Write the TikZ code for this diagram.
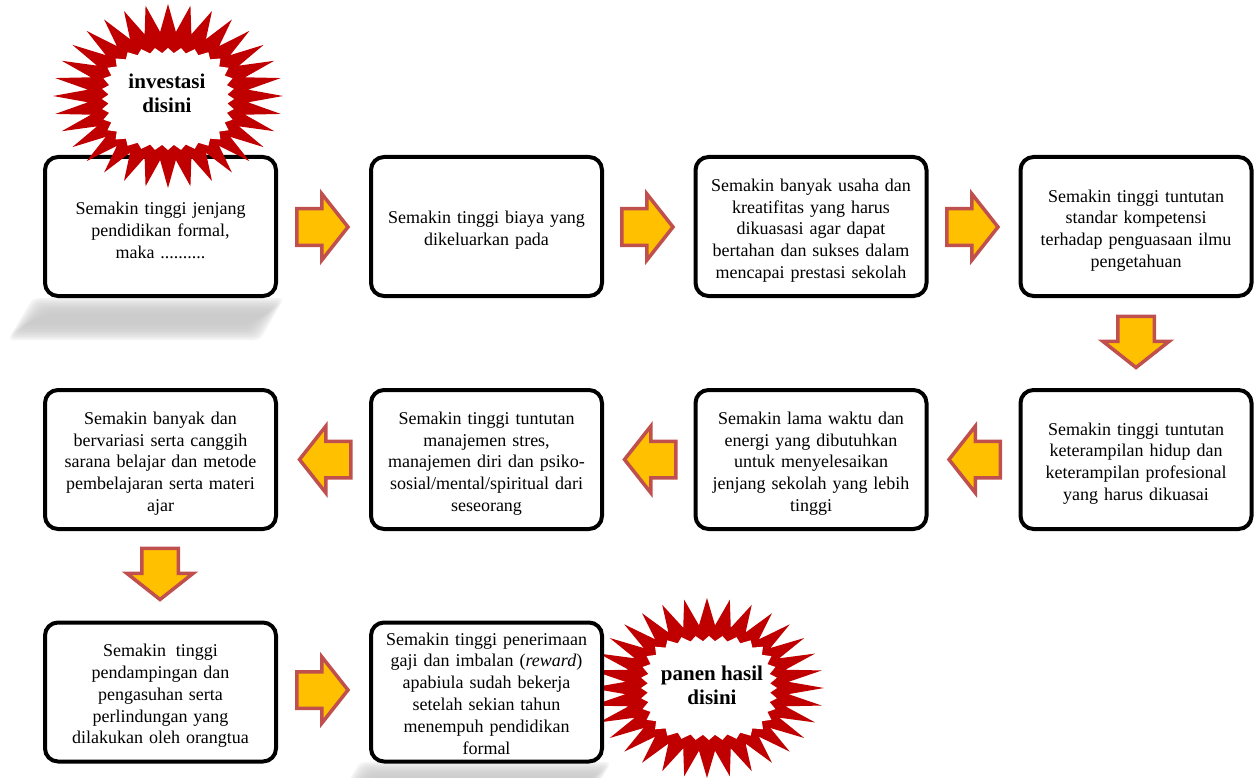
\documentclass[tikz,border=0pt]{standalone}
\usepackage{fontspec}
\setmainfont{Liberation Serif}
\definecolor{starred}{HTML}{C00000}
\definecolor{arrowedge}{HTML}{C0504D}
\definecolor{arrowfill}{HTML}{FFC000}
\pgfmathdeclarefunction{sqf}{1}{\pgfmathparse{1/((abs(cos(#1))^3+abs(sin(#1))^3)^(1/3))}}
\newcommand\myburst[6]{%
  \fill[#6] ({#1+#3},{#2}) \foreach \k in {0,...,31}{ -- ({#1+#3*cos(\k*11.25)},{#2+#4*sin(\k*11.25)}) -- ({#1+#5*#3*cos(\k*11.25+5.625)},{#2+#5*#4*sin(\k*11.25+5.625)}) } -- cycle;}
\newcommand\mywhite[5]{%
  \fill[white] ({#1+#3},{#2}) \foreach \k in {0,...,31}{ -- ({#1+#3*cos(\k*11.25)*sqf(\k*11.25)},{#2+#4*sin(\k*11.25)*sqf(\k*11.25)}) -- ({#1+#5*#3*cos(\k*11.25+5.625)*sqf(\k*11.25+5.625)},{#2+#5*#4*sin(\k*11.25+5.625)*sqf(\k*11.25+5.625)}) } -- cycle;}
\newcommand\myarrow[3]{%
  \draw[blockarrow, shift={(#1,#2)}, rotate=#3] (-25.75,-18.25) -- (-0.75,-18.25) -- (-0.75,-33.25) -- (25.5,0) -- (-0.75,33.25) -- (-0.75,18.25) -- (-25.75,18.25) -- cycle;}
\newcommand\myshadow[2]{%
  \foreach \i in {0,...,9}{
    \fill[black!22, opacity=0.18, rounded corners=5pt] ({#1+33+\i*1.8},{#2+298+\i*1.7}) -- ({#1+284-\i*1.8},{#2+298+\i*1.7}) -- ({#1+260-\i*1.8},{#2+340-\i*1.7}) -- ({#1+8+\i*1.8},{#2+340-\i*1.7}) -- cycle;}}
\newcommand\boxtail{\endgraf\vspace*{-8pt}}
\newcommand\boxtailb{\endgraf\vspace*{5pt}}
\begin{document}
\begin{tikzpicture}[x=1pt,y=-1pt,
  box/.style={draw=black, line width=4pt, rounded corners=13pt, fill=white,
    minimum width=231pt, minimum height=139pt, text width=224pt, align=center,
    inner sep=0pt, font=\fontsize{18}{21.8}\selectfont,
    execute at end node={\boxtail}},
  sixbox/.style={box, execute at end node={\boxtailb}},
  blockarrow/.style={draw=arrowedge, fill=arrowfill, line width=3.5pt, line join=miter},
  startext/.style={font=\fontsize{21}{24}\selectfont\bfseries, align=center, inner sep=0pt}]
\useasboundingbox[fill=white] (0,0) rectangle (1258,778);
% shadows
\myshadow{0}{0}
\myshadow{327}{464}
% second starburst (behind box)
\myburst{707}{688}{117}{90}{0.7}{starred}
\mywhite{709}{688}{68}{52}{0.9}
\node[startext] (s2) at (712,685) {panen hasil\\disini};
% boxes
\node[box] (b1) at (160.5,226.5) {Semakin tinggi jenjang\\pendidikan formal,\\maka ..........};
\node[box] (b2) at (486.5,226.5) {Semakin tinggi biaya yang\\dikeluarkan pada};
\node[box] (b3) at (811,226.5) {Semakin banyak usaha dan\\kreatifitas yang harus\\dikuasasi agar dapat\\bertahan dan sukses dalam\\mencapai prestasi sekolah};
\node[box] (b4) at (1136,226.5) {Semakin tinggi tuntutan\\standar kompetensi\\terhadap penguasaan ilmu\\pengetahuan};
\node[box] (b5) at (1136,459.5) {Semakin tinggi tuntutan\\keterampilan hidup dan\\keterampilan profesional\\yang harus dikuasai};
\node[box] (b6) at (811,459.5) {Semakin lama waktu dan\\energi yang dibutuhkan\\untuk menyelesaikan\\jenjang sekolah yang lebih\\tinggi};
\node[box] (b7) at (486.5,459.5) {Semakin tinggi tuntutan\\manajemen stres,\\manajemen diri dan psiko-\\sosial/mental/spiritual dari\\seseorang};
\node[box] (b8) at (160.5,459.5) {Semakin banyak dan\\bervariasi serta canggih\\sarana belajar dan metode\\pembelajaran serta materi\\ajar};
\node[box] (b9) at (160.5,692) {Semakin\hspace{0.55em}tinggi\\pendampingan dan\\pengasuhan serta\\perlindungan yang\\dilakukan oleh orangtua};
\node[sixbox] (b10) at (486.5,692) {Semakin tinggi penerimaan\\gaji dan imbalan (\textit{reward})\\apabiula sudah bekerja\\setelah sekian tahun\\menempuh pendidikan\\formal};
% first starburst (over box)
\myburst{168}{96}{115}{92}{0.7}{starred}
\mywhite{168}{99}{66}{51}{0.9}
\node[startext] (s1) at (167,93) {investasi\\disini};
% block arrows
\myarrow{322.5}{227}{0}
\myarrow{647.5}{227}{0}
\myarrow{972.5}{227}{0}
\myarrow{1136}{342}{-90}
\myarrow{974.5}{459.5}{180}
\myarrow{650}{459.5}{180}
\myarrow{325}{459.5}{180}
\myarrow{160}{574}{-90}
\myarrow{322.5}{690}{0}
\end{tikzpicture}
\end{document}
